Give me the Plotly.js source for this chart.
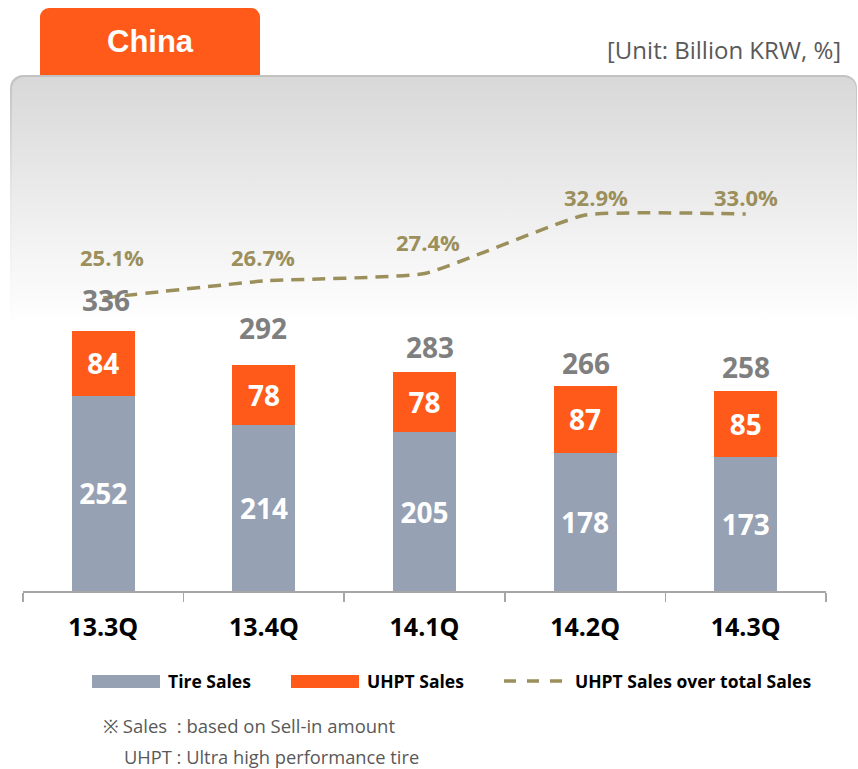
<!DOCTYPE html>
<html>
<head>
<meta charset="utf-8">
<script src="https://cdn.plot.ly/plotly-3.0.1.min.js"></script>
<style>
html,body{margin:0;padding:0;background:#ffffff;}
#wrap{position:relative;width:858px;height:769px;overflow:hidden;background:#fff;}
#panel{position:absolute;left:10px;top:75px;width:847px;height:250px;border-radius:13px 13px 0 0;
  background:linear-gradient(#c2c2c2 0%, #e8e8e8 50%, #ffffff 100%);}
#panelIn{position:absolute;left:1.5px;top:1.5px;right:1.5px;bottom:0;border-radius:12px 12px 0 0;
  background:linear-gradient(#d8d8d8 0%, #e6e6e6 35%, #f4f4f4 70%, #ffffff 100%);}
#tab{position:absolute;left:40px;top:8px;width:220px;height:67px;background:#FF5A1A;border-radius:9px 9px 0 0;}
#chart{position:absolute;left:0;top:0;width:858px;height:769px;}
</style>
</head>
<body>
<div id="wrap">
  <div id="tab"></div>
  <div id="panel"><div id="panelIn"></div></div>
  <div id="chart"></div>
</div>
<script>
// ---- data ----
var quarters = ["13.3Q", "13.4Q", "14.1Q", "14.2Q", "14.3Q"];
var tireSales = [252, 214, 205, 178, 173];
var uhptSales = [84, 78, 78, 87, 85];
var totalSales = [336, 292, 283, 266, 258];
var uhptShare = [25.1, 26.7, 27.4, 32.9, 33.0];

// ---- label placement (pixels, style only) ----
var totalShiftY = [31, 37, 25, 22, 24];
var totalShiftX = [3, -1, 5, 1, 0];
var shareShiftY = [41, 24, 32, 18, 17];
var shareShiftX = [9, -1, 3, 11, 0];

var C_GRAY = "#96A1B3", C_ORANGE = "#FF5A1A", C_OLIVE = "#9B8F5B";
var PL = 23, PR = 826, PT = 90, PB = 591;
function px(x){ return (x - PL) / (PR - PL); }
function py(y){ return (PB - y) / (PB - PT); }

var traces = [
  {
    type: "bar", name: "Tire Sales", x: quarters, y: tireSales,
    marker: {color: C_GRAY}, yaxis: "y",
    text: tireSales.map(String), textposition: "inside", insidetextanchor: "middle",
    textangle: 0, constraintext: "none",
    textfont: {family: "Open Sans", size: 28, color: "#ffffff", weight: "bold"},
    hoverinfo: "skip"
  },
  {
    type: "bar", name: "UHPT Sales", x: quarters, y: uhptSales,
    marker: {color: C_ORANGE}, yaxis: "y",
    text: uhptSales.map(String), textposition: "inside", insidetextanchor: "middle",
    textangle: 0, constraintext: "none",
    textfont: {family: "Open Sans", size: 28, color: "#ffffff", weight: "bold"},
    hoverinfo: "skip"
  },
  {
    type: "scatter", mode: "lines", name: "UHPT Sales over total Sales",
    x: quarters, y: uhptShare, yaxis: "y2",
    line: {color: C_OLIVE, width: 3.5, dash: "13px,8px", shape: "spline", smoothing: 0.4},
    hoverinfo: "skip"
  }
];

var annotations = [];
quarters.forEach(function(q, i){
  annotations.push({
    x: q, y: totalSales[i], xref: "x", yref: "y", text: String(totalSales[i]),
    showarrow: false, yanchor: "middle", xanchor: "center",
    yshift: totalShiftY[i], xshift: totalShiftX[i],
    font: {family: "Open Sans", size: 28, color: "#7F7F7F", weight: "bold"}
  });
  annotations.push({
    x: q, y: uhptShare[i], xref: "x", yref: "y2", text: uhptShare[i].toFixed(1) + "%",
    showarrow: false, yanchor: "middle", xanchor: "center",
    yshift: shareShiftY[i], xshift: shareShiftX[i],
    font: {family: "Open Sans", size: 22, color: C_OLIVE, weight: "bold"}
  });
});

// title, unit, legend texts, notes
annotations.push({
  xref: "paper", yref: "paper", x: px(150), y: py(42), text: "China",
  showarrow: false, xanchor: "center", yanchor: "middle",
  font: {family: "Liberation Sans", size: 31, color: "#ffffff", weight: "bold"}
});
annotations.push({
  xref: "paper", yref: "paper", x: px(843), y: py(49), text: "[Unit: Billion KRW, %]",
  showarrow: false, xanchor: "right", yanchor: "middle",
  font: {family: "Open Sans", size: 24, color: "#595959"}
});
var legendItems = [
  {label: "Tire Sales", tx: 166},
  {label: "UHPT Sales", tx: 365},
  {label: "UHPT Sales over total Sales", tx: 573}
];
legendItems.forEach(function(it){
  annotations.push({
    xref: "paper", yref: "paper", x: px(it.tx), y: py(681), text: it.label,
    showarrow: false, xanchor: "left", yanchor: "middle",
    font: {family: "Open Sans", size: 17.5, color: "#000000", weight: "bold"}
  });
});
annotations.push({
  xref: "paper", yref: "paper", x: px(102), y: py(725),
  text: "※ Sales\u00a0\u00a0: based on Sell-in amount",
  showarrow: false, xanchor: "left", yanchor: "middle", borderpad: 0,
  font: {family: "Open Sans", size: 18.5, color: "#595959"}
});
annotations.push({
  xref: "paper", yref: "paper", x: px(123), y: py(756),
  text: "UHPT : Ultra high performance tire",
  showarrow: false, xanchor: "left", yanchor: "middle", borderpad: 0,
  font: {family: "Open Sans", size: 18.3, color: "#595959"}
});

var shapes = [
  {type: "rect", xref: "paper", yref: "paper", x0: px(92), x1: px(160), y0: py(688), y1: py(675),
   fillcolor: C_GRAY, line: {width: 0}},
  {type: "rect", xref: "paper", yref: "paper", x0: px(291), x1: px(359), y0: py(688), y1: py(675),
   fillcolor: C_ORANGE, line: {width: 0}},
  {type: "line", xref: "paper", yref: "paper", x0: px(504), x1: px(562), y0: py(681), y1: py(681),
   line: {color: C_OLIVE, width: 3.5, dash: "12px,11px"}}
];

var layout = {
  width: 858, height: 769,
  margin: {l: PL, r: 858 - PR, t: PT, b: 769 - PB, pad: 0},
  paper_bgcolor: "rgba(0,0,0,0)", plot_bgcolor: "rgba(0,0,0,0)",
  barmode: "stack", bargap: 0.608,
  showlegend: false,
  xaxis: {
    type: "category", range: [-0.5, 4.5], fixedrange: true,
    showline: true, linecolor: "#A6A6A6", linewidth: 1.5,
    ticks: "outside", tickson: "boundaries", ticklen: 9, tickwidth: 1.5, tickcolor: "#A6A6A6",
    showgrid: false, zeroline: false, ticklabelstandoff: 13,
    tickfont: {family: "Open Sans", size: 25, color: "#000000", weight: "bold"}
  },
  yaxis: {range: [0, 646.7], visible: false, showgrid: false, zeroline: false, fixedrange: true},
  yaxis2: {range: [-2.46, 44.66], overlaying: "y", visible: false, showgrid: false, zeroline: false, fixedrange: true},
  annotations: annotations,
  shapes: shapes
};

Plotly.newPlot("chart", traces, layout, {staticPlot: true, displayModeBar: false});
</script>
</body>
</html>
